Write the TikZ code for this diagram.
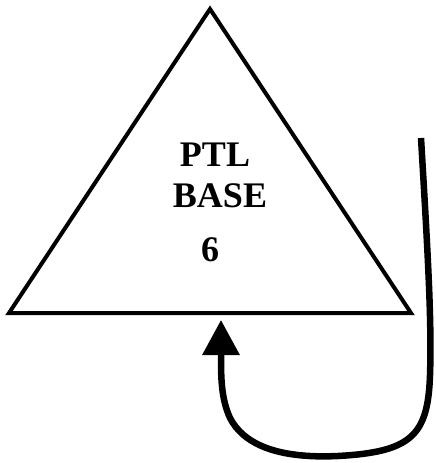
\documentclass[tikz,border=0pt]{standalone}
\usepackage{fontspec}
\setmainfont{Liberation Serif}
\usetikzlibrary{arrows.meta, positioning}

\begin{document}
\begin{tikzpicture}[x=1pt, y=-1pt,
    label/.style={font=\bfseries\fontsize{36}{40}\selectfont, inner sep=0pt},
    arrow/.style={line width=6.5pt, -{Triangle[length=35pt, width=36pt]}}
    ]
    \useasboundingbox (0,0) rectangle (436,463);

    % triangle
    \coordinate (apex) at (210,9);
    \coordinate (left) at (9,313);
    \coordinate (right) at (411,313);
    \draw[line width=4pt, miter limit=20] (apex) -- (right) -- (left) -- cycle;

    \node[label] (ptl) at (215,155) {PTL};
    \node[label] (base) at (220,196) {BASE};
    \node[label] (six) at (210,250) {6};

    % loop back into the base
    \coordinate (start) at (421,138);
    \coordinate (target) at (221,320);
    \draw[arrow] (start) .. controls (427,240) and (432,320) .. (430,375)
        .. controls (428,435) and (412,452) .. (338,456)
        .. controls (275,459) and (243,443) .. (230,418)
        .. controls (221,398) and (221,378) .. (target);
\end{tikzpicture}
\end{document}
